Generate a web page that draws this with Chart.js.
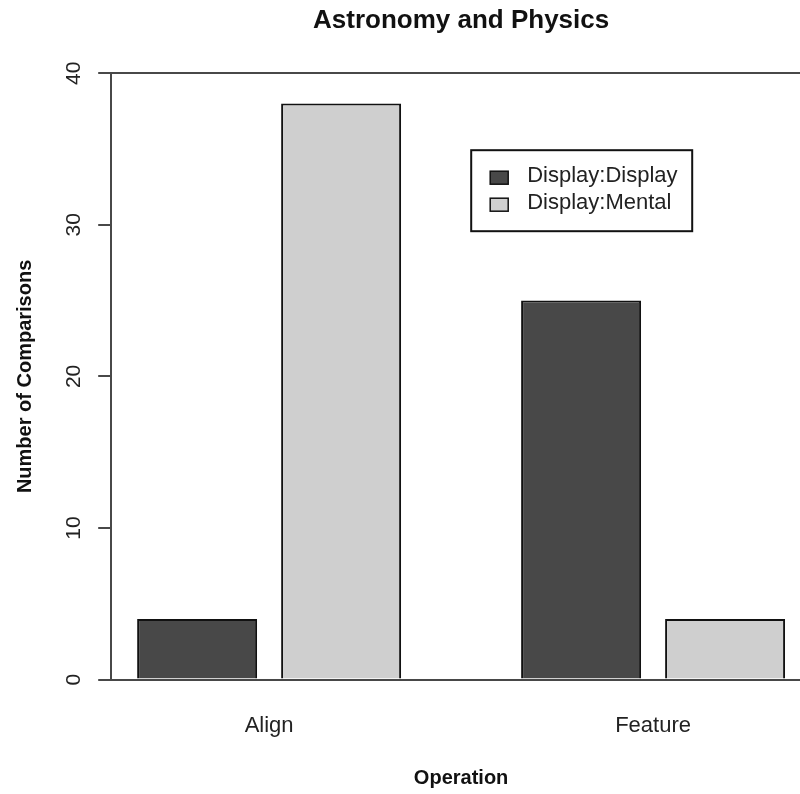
<!DOCTYPE html>
<html>
<head>
<meta charset="utf-8">
<script src="https://cdn.jsdelivr.net/npm/chart.js@4"></script>
<style>
  body { margin: 0; background: #fff; }
  #wrap { width: 800px; height: 794px; overflow: hidden; }
</style>
</head>
<body>
<div id="wrap"><canvas id="chart" width="812" height="794"></canvas></div>
<script>
// data
const categories = ["Align", "Feature"]
const seriesNames = ["Display:Display", "Display:Mental"]
const displayDisplay = [4, 25]
const displayMental = [38, 4]
const yTicks = [0, 10, 20, 30, 40]

// R barplot spacing: bar width 1, 0.2 between bars, 1 before each group
const barW = 1, innerGap = 0.2, groupGap = 1
const groupStart = g => groupGap + g * (2 * barW + innerGap + groupGap)
const barCenter = (g, j) => groupStart(g) + j * (barW + innerGap) + barW / 2
const groupCenters = categories.map((c, g) => (barCenter(g, 0) + barCenter(g, 1)) / 2)
const xLo = groupStart(0), xHi = barCenter(categories.length - 1, 1) + barW / 2
const xPad = (xHi - xLo) * 0.04

const font = "'Liberation Sans', Arial, sans-serif"
const axisColor = "#484848"

// legend box inside the plot, like R's legend()
const boxLegend = {
  id: "boxLegend",
  afterDraw(chart) {
    const { ctx, chartArea } = chart
    const x = chartArea.left + 360, y = chartArea.top + 77
    ctx.save()
    ctx.fillStyle = "#fff"
    ctx.fillRect(x, y, 221, 81)
    ctx.strokeStyle = "#111"
    ctx.lineWidth = 2
    ctx.strokeRect(x, y, 221, 81)
    ctx.font = "22px " + font
    ctx.textBaseline = "middle"
    chart.data.datasets.forEach((ds, i) => {
      const sy = y + 27 + i * 27
      ctx.fillStyle = ds.backgroundColor
      ctx.fillRect(x + 19, sy - 6, 18, 13)
      ctx.strokeStyle = "#111"
      ctx.lineWidth = 1.5
      ctx.strokeRect(x + 19, sy - 6, 18, 13)
      ctx.fillStyle = "#222"
      ctx.fillText(ds.label, x + 56, sy - 1)
    })
    ctx.restore()
  }
}

const ctx = document.getElementById("chart").getContext("2d")
new Chart(ctx, {
  type: "bar",
  data: {
    datasets: [
      {
        label: seriesNames[0],
        data: displayDisplay.map((v, g) => ({ x: barCenter(g, 0), y: v })),
        backgroundColor: "#484848",
        borderColor: "#111",
        borderWidth: 2
      },
      {
        label: seriesNames[1],
        data: displayMental.map((v, g) => ({ x: barCenter(g, 1), y: v })),
        backgroundColor: "#cfcfcf",
        borderColor: "#111",
        borderWidth: 2
      }
    ]
  },
  options: {
    responsive: false,
    animation: false,
    grouped: false,
    categoryPercentage: 1,
    barPercentage: barW / (barW + innerGap),
    layout: { padding: { left: 0, right: 1, top: 0, bottom: 0 } },
    plugins: {
      legend: { display: false },
      tooltip: { enabled: false },
      title: {
        display: true,
        fullSize: false,
        text: "Astronomy and Physics",
        color: "#111",
        font: { family: font, size: 26, weight: "bold" },
        padding: { top: 5, bottom: 37 }
      }
    },
    scales: {
      x: {
        type: "linear",
        offset: false,
        min: xLo - xPad,
        max: xHi + xPad,
        afterBuildTicks: s => { s.ticks = groupCenters.map(v => ({ value: v })) },
        grid: { display: false, drawTicks: false },
        border: { display: false },
        ticks: {
          callback: (v, i) => categories[i],
          color: "#222",
          font: { family: font, size: 22 },
          padding: 33,
          maxRotation: 0
        },
        title: {
          display: true,
          text: "Operation",
          color: "#111",
          font: { family: font, size: 20, weight: "bold" },
          padding: { top: -6, bottom: 4 }
        }
      },
      y: {
        min: 0,
        max: 40,
        afterBuildTicks: s => { s.ticks = yTicks.map(v => ({ value: v })) },
        grid: {
          color: c => (c.tick && (c.tick.value === 0 || c.tick.value === 40)) ? axisColor : "transparent",
          tickColor: axisColor,
          tickLength: 13,
          lineWidth: 2
        },
        border: { display: true, color: axisColor, width: 2 },
        ticks: {
          color: "#222",
          font: { family: font, size: 21 },
          padding: 12,
          minRotation: 90,
          maxRotation: 90,
          crossAlign: "center"
        },
        title: {
          display: true,
          text: "Number of Comparisons",
          color: "#111",
          font: { family: font, size: 20, weight: "bold" },
          padding: { top: 13, bottom: 12 }
        }
      }
    }
  },
  plugins: [boxLegend]
})
</script>
</body>
</html>
